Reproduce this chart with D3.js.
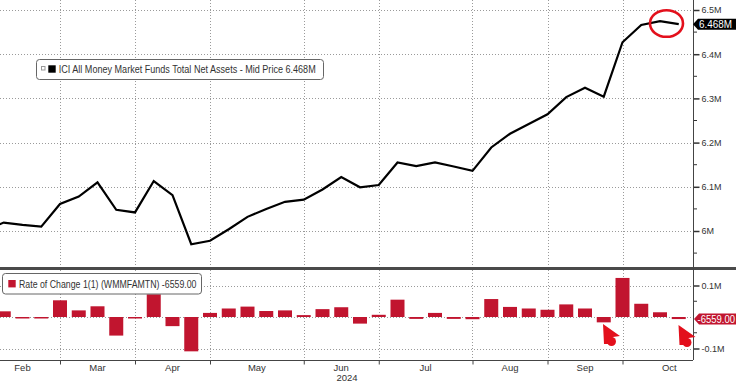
<!DOCTYPE html>
<html>
<head>
<meta charset="utf-8">
<script src="https://cdn.jsdelivr.net/npm/d3@7"></script>
<style>
  body { margin: 0; background: #fff; }
  text { font-family: "Liberation Sans", Arial, sans-serif; fill: #333; }
</style>
</head>
<body>
<svg id="chart"></svg>
<script>
// weekly data (as of wednesday)
const weeks = ["2024-02-07","2024-02-14","2024-02-21","2024-02-28","2024-03-06","2024-03-13","2024-03-20","2024-03-27",
  "2024-04-03","2024-04-10","2024-04-17","2024-04-24","2024-05-01","2024-05-08","2024-05-15","2024-05-22","2024-05-29",
  "2024-06-05","2024-06-12","2024-06-19","2024-06-26","2024-07-03","2024-07-10","2024-07-17","2024-07-24","2024-07-31",
  "2024-08-07","2024-08-14","2024-08-21","2024-08-28","2024-09-04","2024-09-11","2024-09-18","2024-09-25",
  "2024-10-02","2024-10-09","2024-10-16","2024-10-23"];
// total net assets, trillions (M on the axis)
const assets = [6.002,6.019,6.014,6.010,6.061,6.078,6.110,6.048,
  6.042,6.113,6.081,5.970,5.978,6.004,6.032,6.050,6.066,
  6.071,6.094,6.122,6.099,6.104,6.155,6.147,6.155,6.146,
  6.136,6.189,6.220,6.242,6.264,6.303,6.324,6.304,
  6.427,6.466,6.475,6.468];
// rate of change 1(1)
const changes = [0.010,0.018,-0.003,-0.003,0.053,0.021,0.034,-0.059,
  -0.003,0.072,-0.029,-0.109,0.013,0.027,0.033,0.019,0.021,
  0.006,0.025,0.031,-0.021,0.007,0.055,-0.006,0.013,-0.006,
  -0.007,0.057,0.032,0.027,0.023,0.040,0.027,-0.017,
  0.124,0.042,0.015,-0.006559];

const monthStarts = ["2024-02-07","2024-03-06","2024-04-03","2024-05-01","2024-06-05","2024-07-03","2024-08-07","2024-09-04","2024-10-02","2024-11-06"];
const monthLabels = ["Feb","Mar","Apr","May","Jun","Jul","Aug","Sep","Oct"];
const topTicks = [6.0, 6.1, 6.2, 6.3, 6.4, 6.5];
const topTickLabels = ["6M","6.1M","6.2M","6.3M","6.4M","6.5M"];
const topMinor = [5.95, 6.05, 6.15, 6.25, 6.35, 6.45];
const botTicks = [-0.1, 0.1];
const botTickLabels = ["-0.1M","0.1M"];
const botMinor = [-0.05, 0.05];

const lastLabel = "6.468M";
const lastChangeLabel = "-6559.00";
const legendTop = "ICI All Money Market Funds Total Net Assets - Mid Price 6.468M";
const legendBot = "Rate of Change 1(1) (WMMFAMTN) -6559.00";

const svgWidth = 736;
const svgHeight = 384;
const plotRight = 693;
const topBottom = 267;
const botTop = 271;
const axisY = 360;

const svg = d3.select("#chart")
    .attr("width", svgWidth)
    .attr("height", svgHeight);

const parse = d3.utcParse("%Y-%m-%d");
const dates = weeks.map(parse);

//Scales
const x = d3.scaleUtc()
    .domain([parse("2024-02-14"), parse("2024-10-23")])
    .range([3.75, 678.75]);
const yTop = d3.scaleLinear()
    .domain([6.0, 6.5])
    .range([231, 10]);
const yBot = d3.scaleLinear()
    .domain([-0.1, 0.1])
    .range([348.5, 285.5]);

// clip paths
const defs = svg.append("defs");
defs.append("clipPath").attr("id", "clipTop")
    .append("rect").attr("x", 0).attr("y", 0).attr("width", plotRight).attr("height", topBottom);
defs.append("clipPath").attr("id", "clipBot")
    .append("rect").attr("x", 0).attr("y", botTop).attr("width", plotRight).attr("height", axisY - botTop);

//Grid
const grid = svg.append("g").attr("id", "grid")
    .attr("stroke", "#9a9a9a")
    .attr("stroke-width", 1)
    .attr("stroke-dasharray", "1,2");
grid.selectAll("line.v")
    .data(monthStarts.slice(1, -1).map(parse))
    .join("line")
    .attr("class", "v")
    .attr("x1", d => Math.round(x(d)) + 0.5)
    .attr("x2", d => Math.round(x(d)) + 0.5)
    .attr("y1", 0)
    .attr("y2", axisY);
grid.selectAll("line.ht")
    .data(topTicks)
    .join("line")
    .attr("class", "ht")
    .attr("x1", 0)
    .attr("x2", plotRight)
    .attr("y1", d => Math.round(yTop(d)) + 0.5)
    .attr("y2", d => Math.round(yTop(d)) + 0.5);
grid.selectAll("line.hb")
    .data([-0.1, 0, 0.1])
    .join("line")
    .attr("class", "hb")
    .attr("x1", 0)
    .attr("x2", plotRight)
    .attr("y1", d => Math.round(yBot(d)) + 0.5)
    .attr("y2", d => Math.round(yBot(d)) + 0.5);

//Bars
svg.append("g")
    .attr("id", "barsG")
    .attr("clip-path", "url(#clipBot)")
    .selectAll("rect")
    .data(changes)
    .join("rect")
    .attr("x", (d, i) => x(dates[i]) - 7)
    .attr("width", 14)
    .attr("y", d => Math.min(yBot(d), yBot(0)))
    .attr("height", d => Math.max(1.5, Math.abs(yBot(d) - yBot(0))))
    .style("fill", "#c1152f");

//Path
const line = d3.line()
    .x((d, i) => x(dates[i]))
    .y(d => yTop(d));
svg.append("g")
    .attr("id", "pathG")
    .attr("clip-path", "url(#clipTop)")
    .append("path")
    .attr("d", line(assets))
    .style("stroke", "#000")
    .style("stroke-width", 2.2)
    .style("stroke-linejoin", "miter")
    .style("fill", "none");

// separator between panels
svg.append("rect")
    .attr("x", 0).attr("y", topBottom)
    .attr("width", svgWidth).attr("height", 3)
    .style("fill", "#4a4a4a");

//Axis (right)
const yAxisTop = d3.axisRight(yTop)
    .tickValues(topTicks)
    .tickSize(6)
    .tickPadding(2)
    .tickFormat((d, i) => topTickLabels[i]);
const yAxisTopG = svg.append("g")
    .attr("transform", `translate(${plotRight + 0.5}, 0)`)
    .call(yAxisTop);
const yAxisBot = d3.axisRight(yBot)
    .tickValues(botTicks)
    .tickSize(6)
    .tickPadding(2)
    .tickFormat((d, i) => botTickLabels[i]);
const yAxisBotG = svg.append("g")
    .attr("transform", `translate(${plotRight + 0.5}, 0)`)
    .call(yAxisBot);
[yAxisTopG, yAxisBotG].forEach(g => {
    g.select(".domain").remove();
    g.selectAll(".tick line").attr("stroke", "#333").attr("stroke-width", 1.5);
    g.selectAll(".tick text")
        .attr("font-family", null)
        .style("font-size", "9px")
        .style("fill", "#333");
});
// minor ticks
svg.append("g")
    .selectAll("line")
    .data(topMinor.map(d => yTop(d)).concat(botMinor.map(d => yBot(d))))
    .join("line")
    .attr("x1", plotRight)
    .attr("x2", plotRight + 4)
    .attr("y1", d => d)
    .attr("y2", d => d)
    .attr("stroke", "#333");
// right axis line
svg.append("line")
    .attr("x1", plotRight + 0.5).attr("x2", plotRight + 0.5)
    .attr("y1", 0).attr("y2", axisY)
    .attr("stroke", "#444");

//Axis (bottom)
const xAxis = d3.axisBottom(x)
    .tickValues(monthStarts.slice(1, -1).map(parse))
    .tickSize(4)
    .tickFormat("");
const xAxisG = svg.append("g")
    .attr("transform", `translate(0, ${axisY + 0.5})`)
    .call(xAxis);
xAxisG.select(".domain").attr("d", `M0,0H${plotRight}`).attr("stroke", "#444");
xAxisG.selectAll(".tick line").attr("stroke", "#444");
svg.append("g")
    .selectAll("text")
    .data(monthLabels)
    .join("text")
    .attr("x", (d, i) => (x(parse(monthStarts[i])) + x(parse(monthStarts[i + 1]))) / 2)
    .attr("y", 371)
    .attr("text-anchor", "middle")
    .style("font-size", "9.5px")
    .text(d => d);
svg.append("text")
    .attr("x", 347)
    .attr("y", 381)
    .attr("text-anchor", "middle")
    .style("font-size", "9.5px")
    .text("2024");

//Last value tags
const tagTop = yTop(assets[assets.length - 1]);
svg.append("path")
    .attr("d", `M${plotRight},${tagTop} L${plotRight + 5},${tagTop - 5.5} H736 V${tagTop + 5.5} H${plotRight + 5} Z`)
    .style("fill", "#000");
svg.append("text")
    .attr("x", 699)
    .attr("y", tagTop + 3.5)
    .attr("textLength", 33)
    .attr("lengthAdjust", "spacingAndGlyphs")
    .style("font-size", "10px")
    .style("fill", "#fff")
    .text(lastLabel);
const tagBot = yBot(changes[changes.length - 1]);
svg.append("path")
    .attr("d", `M${plotRight + 1},${tagBot} L${plotRight + 6},${tagBot - 5.5} H736 V${tagBot + 5.5} H${plotRight + 6} Z`)
    .style("fill", "#c1152f");
svg.append("text")
    .attr("x", 697.5)
    .attr("y", tagBot + 3.5)
    .attr("textLength", 37.5)
    .attr("lengthAdjust", "spacingAndGlyphs")
    .style("font-size", "10px")
    .style("fill", "#fff")
    .text(lastChangeLabel);

//Legends
const legT = svg.append("g");
legT.append("rect")
    .attr("x", 36.5).attr("y", 59.5).attr("width", 287).attr("height", 20).attr("rx", 3)
    .style("fill", "#fff").style("stroke", "#666");
legT.append("rect")
    .attr("x", 41.5).attr("y", 66.5).attr("width", 3.5).attr("height", 3.5)
    .style("fill", "none").style("stroke", "#999");
legT.append("rect")
    .attr("x", 48.3).attr("y", 65.3).attr("width", 7.4).attr("height", 7.4)
    .style("fill", "#000");
legT.append("text")
    .attr("x", 58.7).attr("y", 73)
    .attr("textLength", 257)
    .attr("lengthAdjust", "spacingAndGlyphs")
    .style("font-size", "10px")
    .text(legendTop);

const legB = svg.append("g");
legB.append("rect")
    .attr("x", 2.5).attr("y", 273.5).attr("width", 199).attr("height", 20.5).attr("rx", 3)
    .style("fill", "#fff").style("stroke", "#666");
legB.append("rect")
    .attr("x", 8.3).attr("y", 280).attr("width", 7.4).attr("height", 7.4)
    .style("fill", "#c1152f");
legB.append("text")
    .attr("x", 19).attr("y", 287.5)
    .attr("textLength", 177.5)
    .attr("lengthAdjust", "spacingAndGlyphs")
    .style("font-size", "10px")
    .text(legendBot);

//Annotations
svg.append("ellipse")
    .attr("cx", 666.5).attr("cy", 23.5).attr("rx", 16.5).attr("ry", 13.3)
    .style("fill", "none").style("stroke", "#e3101c").style("stroke-width", 2.6);
const cursors = svg.append("g").style("fill", "#e3101c");
[[603, 324], [678.5, 325]].forEach(([cx, cy]) => {
    cursors.append("path")
        .attr("d", `M${cx},${cy} L${cx + 17},${cy + 12} L${cx + 10},${cy + 13} L${cx + 5},${cy + 20} L${cx + 1},${cy + 20} Z`);
    cursors.append("circle")
        .attr("cx", cx + 8.5).attr("cy", cy + 17.5).attr("r", 4.5);
});
</script>
</body>
</html>
